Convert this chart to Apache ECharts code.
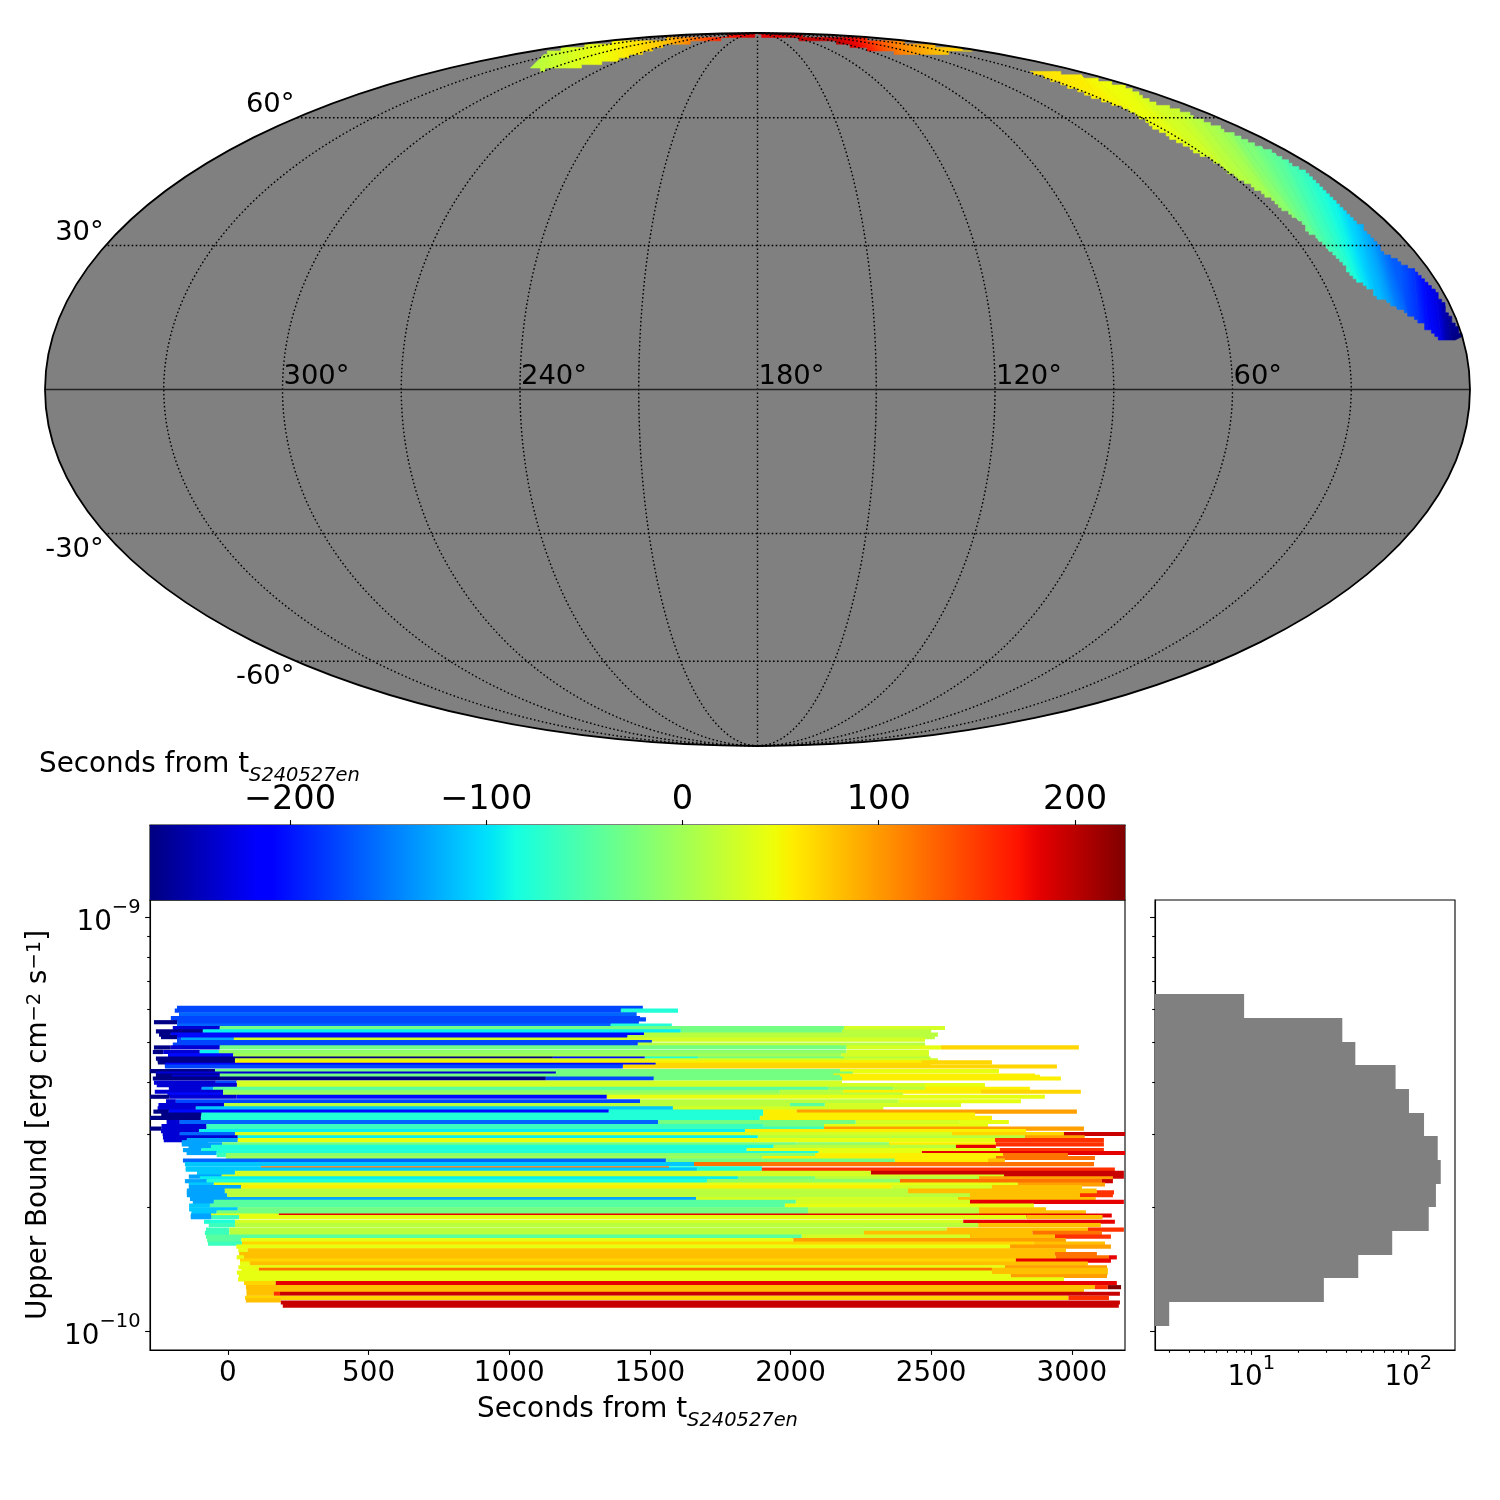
<!DOCTYPE html>
<html>
<head>
<meta charset="utf-8">
<title>S240527en upper bounds</title>
<script src="https://cdn.jsdelivr.net/npm/echarts@6/dist/echarts.min.js"></script>
<style>
  html, body { margin: 0; padding: 0; background: #fff; }
  #chart { width: 1500px; height: 1500px; }
</style>
</head>
<body>
<div id="chart"></div>
<script>
// sky strips: [seconds, upperX, upperY, lowerX, lowerY], each row is one line of equal time,
// x and y in the Mollweide plane (ellipse spans -1..1 on both)
const skyStripEast = [
  [65, 0.3839, 0.8943, 0.3839, 0.8943], [60, 0.4152, 0.8887, 0.4152, 0.8663],
  [55, 0.4526, 0.8794, 0.4784, 0.8167], [48, 0.4760, 0.8682, 0.5228, 0.7840],
  [42, 0.5228, 0.8448, 0.5790, 0.7092], [32, 0.5485, 0.8074, 0.6257, 0.6578],
  [27, 0.5743, 0.7934, 0.6491, 0.6344], [18, 0.6023, 0.7747, 0.6678, 0.6017],
  [10, 0.6257, 0.7513, 0.6912, 0.5736], [0, 0.6491, 0.7326, 0.7240, 0.5316],
  [-12, 0.6678, 0.7139, 0.7380, 0.5082], [-20, 0.6795, 0.7027, 0.7614, 0.4754],
  [-32, 0.7053, 0.6793, 0.7731, 0.4474], [-42, 0.7240, 0.6625, 0.7895, 0.4194],
  [-55, 0.7474, 0.6344, 0.8035, 0.3913], [-66, 0.7661, 0.6110, 0.8199, 0.3586],
  [-76, 0.7848, 0.5736, 0.8363, 0.3165], [-88, 0.8035, 0.5409, 0.8456, 0.3025],
  [-105, 0.8292, 0.4848, 0.8596, 0.2838], [-118, 0.8456, 0.4614, 0.8713, 0.2604],
  [-130, 0.8596, 0.4287, 0.8854, 0.2464], [-150, 0.8784, 0.3819, 0.8994, 0.2277],
  [-165, 0.8924, 0.3632, 0.9134, 0.2136], [-185, 0.9205, 0.3352, 0.9275, 0.1950],
  [-205, 0.9345, 0.3025, 0.9415, 0.1716], [-228, 0.9509, 0.2791, 0.9602, 0.1435],
  [-250, 0.9626, 0.2324, 0.9672, 0.1389], [-262, 0.9719, 0.2043, 0.9743, 0.1342],
  [-271, 0.9883, 0.1529, 0.9813, 0.1389]
]
const skyStripPoleWest = [
  [15, -0.2982, 0.9430, -0.3193, 0.9009], [20, -0.2912, 0.9495, -0.3006, 0.8962],
  [30, -0.2678, 0.9589, -0.2678, 0.9028], [45, -0.2211, 0.9710, -0.2211, 0.9121],
  [60, -0.1743, 0.9785, -0.1743, 0.9364], [80, -0.1275, 0.9832, -0.1275, 0.9645],
  [110, -0.0994, 0.9878, -0.0971, 0.9710], [145, -0.0713, 0.9906, -0.0713, 0.9785],
  [170, -0.0433, 0.9925, -0.0433, 0.9850], [190, -0.0058, 0.9944, -0.0058, 0.9897]
]
const skyStripPoleEast = [
  [181, 0.0012, 0.9944, 0.0012, 0.9934], [195, 0.0597, 0.9925, 0.0597, 0.9832],
  [200, 0.1064, 0.9888, 0.1111, 0.9738], [180, 0.1345, 0.9850, 0.1392, 0.9617],
  [155, 0.1532, 0.9822, 0.1672, 0.9495], [115, 0.1906, 0.9757, 0.2000, 0.9430],
  [95, 0.2234, 0.9691, 0.2281, 0.9420], [80, 0.2562, 0.9617, 0.2562, 0.9430],
  [65, 0.3029, 0.9495, 0.3029, 0.9476]
]

const meridians = [30, 60, 90, 120, 150, 180, 210, 240, 270, 300, 330]
const parallels = [60, 30, -30, -60]
const lonLabels = [300, 240, 180, 120, 60]
const latLabels = [60, 30, -30, -60]

// lower panel, one entry per row: log10 of the upper bound,
// the window edges in seconds, and the sky offset of each piece between edges
const rowLogBound = [
  -9.218, -9.225, -9.234, -9.243, -9.246, -9.253, -9.261, -9.267, -9.275, -9.283,
  -9.289, -9.295, -9.301, -9.307, -9.314, -9.325, -9.333, -9.341, -9.345, -9.350,
  -9.356, -9.360, -9.371, -9.377, -9.382, -9.385, -9.389, -9.399, -9.405, -9.414,
  -9.421, -9.428, -9.433, -9.444, -9.453, -9.461, -9.469, -9.476, -9.484, -9.494,
  -9.504, -9.510, -9.516, -9.523, -9.531, -9.538, -9.543, -9.548, -9.554, -9.562,
  -9.569, -9.574, -9.581, -9.587, -9.596, -9.606, -9.609, -9.617, -9.626, -9.630,
  -9.637, -9.645, -9.651, -9.660, -9.664, -9.671, -9.680, -9.687, -9.696, -9.705,
  -9.712, -9.720, -9.724, -9.735, -9.743, -9.754, -9.762, -9.771, -9.779, -9.788,
  -9.795, -9.804, -9.813, -9.821, -9.829, -9.836, -9.845, -9.851, -9.858, -9.866,
  -9.874, -9.883, -9.893, -9.900, -9.909, -9.919, -9.925, -9.930, -9.938
]
const rowEdges = [
  [-181, 1475], [-189, 1397, 1600], [-174, 1453], [-203, 1465], [-196, 1486],
  [-263, -180, 1461], [-181, 1361, 1578], [-196, -29, 2190, 2549],
  [-256, -89, 1610, 2183, 2500], [-245, -203, 1479, 2524],
  [-238, -181, 1420, 2513], [-181, -167, 21, 2478], [-181, 1507], [-196, 1457, 2478],
  [-263, -203, -29, 2199, 2460, 2535, 3025], [-267, -230, -100, -32, 2199, 2492],
  [-213, 19, 2181, 2492], [-256, 1155, 1482, 1671, 2190, 2498], [-250, 25, 2524],
  [-249, 25, 2466, 2716],
  [-224, 1521, 2500], [-224, 1404, 2947], [-277, -46, 2176, 2741], [-256, 1166, 2221],
  [-256, -29, 2152, 2869], [-200, -29, 2176, 2887], [-267, 1130, 1514, 2183, 2961],
  [-263, -43, 31, 2183], [-253, 32, 2478, 2691], [-210, -93, -52, 2133, 2365, 2478, 2851],
  [-260, -17, 1962, 2187, 2677, 3032], [-215, -17, 1962, 2400], [-277, -207, 31, 1347, 2904],
  [-220, -185, 1465, 2385, 2819], [-247, -14, 1998, 2122, 2606], [-250, -114, 1582, 2330],
  [-265, -210, 1354, 1903, 2022, 3018], [-237, -94, 1903, 2656], [-277, -96, 1891, 2716],
  [-218, -171, 1529, 2232, 2602, 2776],
  [-236, -76, 1905, 2119, 2702], [-277, -236, -76, 2119, 3043], [-238, -103, 1838, 2837],
  [-232, -171, 25, 2574, 2972, 3189], [-231, 35, 1884, 2833, 3046],
  [-228, -146, 35, 2727, 3114], [-164, -70], [-164, -21, 2022, 2350, 2730, 3114],
  [-140, -60, 1940, 2588, 2730], [-160, -94, 1844, 2744, 3114],
  [-147, -40, 2100, 2467, 3189], [-40, -7, 2087, 2756, 2986], [-7, 1900, 2730, 3082],
  [-160, 1557, 2371, 2702, 2762], [-153, 1657, 3079], [-150, 117, 1568, 1898],
  [-150, 1667, 1898, 3153], [-110, 25, 2286, 3185], [-139, -22, 2759, 3185],
  [-100, 1813, 2087, 2670, 3146],
  [-153, -75, 1703, 2389, 3107, 3146], [-139, -50, 2808, 3118], [-139, 47, 2359, 2716, 3036],
  [-146, -11, 2417, 3088], [-146, -11, 2417, 3089, 3150], [-146, -3, 2638, 3029, 3146],
  [-135, 1664, 2595, 3085], [-125, -50, 2019, 2638, 3185], [-138, -64, 1980, 2865],
  [-138, 35, 2062, 2670, 2908],
  [-130, -40, 2062, 2670, 3050], [-132, -60, 181, 3142], [-132, -58, 40, 2839, 3109],
  [-85, 25, 2614, 3153], [-68, 25, 2667, 3103], [-78, 5, 2555, 3057, 3185],
  [-82, 5, 2261, 2860, 3107], [-78, 2040, 2638, 2940, 3139], [-74, 48, 2010, 2979],
  [-71, 50, 2865, 3118],
  [30, 2780, 3139], [37, 70, 2979], [40, 2940, 3089], [31, 57, 2943, 3132, 3160],
  [43, 2801, 3139], [43, 78, 3057], [37, 2762, 3125], [48, 110, 2716, 3128],
  [32, 2716, 3128], [39, 2783, 3125],
  [36, 2972], [57, 170, 3160], [64, 3082, 3128, 3175], [66, 3043], [66, 163, 185, 3171],
  [61, 2988, 3132], [64, 188], [188, 3171], [195, 3167]
]
const rowOffsets = [
  [-175], [-175, -78], [-160], [-175], [-175],
  [-268, -175], [-160, -78], [-235, -27, 30],
  [-268, -92, -27, 15], [-268, -205, 15],
  [-268, -205, 15], [-175, -130, 30], [-175], [-175, 15],
  [-268, -235, -27, 30, 42, 68], [-268, -235, -92, -12, 30],
  [-205, 0, 30], [-268, -205, -78, -27, 15], [-268, 30],
  [-268, 55, 68],
  [-205, 68], [-175, 68], [-268, -27, 42], [-235, -27],
  [-268, -27, 55], [-235, -27, 55], [-268, -175, -27, 55],
  [-235, -175, 30], [-235, 30, 42], [-235, -130, -45, -12, 15, 55],
  [-235, -12, 15, 55, 68], [-205, 0, 15], [-268, -235, -205, 42],
  [-235, -175, 15, 42], [-235, 15, -45, 30], [-235, -112, 30],
  [-268, -205, -78, 55, 97], [-268, -78, 55], [-268, -78, 55],
  [-235, -160, -27, 30, 42],
  [-235, -62, -27, 42], [-268, -235, -62, 97], [-235, -92, 55],
  [-235, -160, 30, 68, 194], [-235, -92, 15, 97],
  [-235, -130, 42, 155], [-130], [-130, -27, -12, 55, 155],
  [-130, -78, 15, 181], [-130, -78, 42, 155],
  [-130, -78, 42, 181], [-62, -12, 55, 121], [0, 55, 121],
  [-160, -27, 55, 80], [-112, 121], [-112, 121, -78],
  [-112, -78, 155], [-112, 30, 194], [-130, 30, 194],
  [-92, -27, 15, 97],
  [-130, -78, -12, 121, 194], [-112, 42, 97], [-130, 55, 30, 80],
  [-130, 15, 80], [-130, 15, 80, 155], [-130, 15, 80, 155],
  [-130, 30, 80], [-130, -45, 30, 181], [-112, -45, 42],
  [-112, -27, 15, 80],
  [-112, -27, 15, 80], [-130, 42, 181], [-130, -62, 42, 80],
  [-78, 30, 181], [-62, 15, 80], [-62, 15, 80, 155],
  [-62, 15, 80, 121], [-45, 30, 80, 155], [-45, 42, 97],
  [-62, 68, 80],
  [42, 97], [42, 80], [80, 121], [42, 80, 121, 181],
  [68, 181], [42, 80], [42, 97], [42, 121, 80],
  [42, 80], [42, 97],
  [42], [68, 181], [80, 155, 225], [80], [80, 155, 194],
  [68, 155], [80], [194], [194]
]

// histogram at the right
const histLogEdges = [-9.186, -9.243, -9.3, -9.357, -9.415, -9.472, -9.529, -9.586, -9.643, -9.7, -9.758, -9.815, -9.872, -9.929, -9.986]
const histCounts = [9, 38, 46, 83, 101, 126, 154, 161, 150, 135, 79, 48, 29, 3]

// axis limits and ticks
const offsetRange = [-271.3, 225.5]
const offsetTicks = [-200, -100, 0, 100, 200]
const secondsRange = [-277, 3189]
const secondsTicks = [0, 500, 1000, 1500, 2000, 2500, 3000]
const boundRange = [9.02e-11, 1.102e-9]
const boundTicks = [1e-10, 1e-9]
const boundMinorTicks = [2e-10, 3e-10, 4e-10, 5e-10, 6e-10, 7e-10, 8e-10, 9e-10]
const countRange = [2.436, 198.4]
const countTicks = [10, 100]
const countMinorTicks = [3, 4, 5, 6, 7, 8, 9, 20, 30, 40, 50, 60, 70, 80, 90]

const FONT = 'DejaVu Sans'
const LABEL_SIZE = 27.8
const LINE_WIDTH = 1.1
const ROW_HEIGHT = 4.17
const SKY_CELL = 3.4

// matplotlib jet
const jetR = [[0, 0], [0.35, 0], [0.66, 1], [0.89, 1], [1, 0.5]]
const jetG = [[0, 0], [0.125, 0], [0.375, 1], [0.64, 1], [0.91, 0], [1, 0]]
const jetB = [[0, 0.5], [0.11, 1], [0.34, 1], [0.65, 0], [1, 0]]

const ramp = (table, p) => {
  for (let i = 1; i < table.length; i++) {
    if (p <= table[i][0]) {
      const [x0, y0] = table[i - 1]
      const [x1, y1] = table[i]
      return y0 + (y1 - y0) * (p - x0) / (x1 - x0)
    }
  }
  return table[table.length - 1][1]
}

const jetAt = (p) => {
  const c = [jetR, jetG, jetB].map(t => Math.round(255 * ramp(t, p)))
  return `rgb(${c[0]},${c[1]},${c[2]})`
}

const offsetColor = (sec) => {
  const p = (sec - offsetRange[0]) / (offsetRange[1] - offsetRange[0])
  return jetAt(Math.max(0, Math.min(1, p)))
}

// Mollweide, longitude runs backwards and 180 sits in the middle
const mollweide = (lon, lat) => {
  const phi = lat * Math.PI / 180
  let theta = phi
  if (Math.abs(lat) !== 90) {
    for (let i = 0; i < 30; i++) {
      const d = (2 * theta + Math.sin(2 * theta) - Math.PI * Math.sin(phi)) / (2 + 2 * Math.cos(2 * theta))
      theta -= d
    }
  }
  return [(180 - lon) / 180 * Math.cos(theta), Math.sin(theta)]
}

const skyLine = (fn) => {
  const pts = []
  for (let k = 0; k <= 120; k++) pts.push(fn(k / 120))
  return pts
}

// the sky map is a coarse pixel map, so strip edges walk in steps of one map cell
const stairs = (p, q) => {
  const snap = v => Math.round(v / SKY_CELL) * SKY_CELL
  const n = Math.max(1, Math.ceil(Math.hypot(q[0] - p[0], q[1] - p[1]) / SKY_CELL))
  const pts = []
  let prev = null
  for (let i = 0; i <= n; i++) {
    const cur = [snap(p[0] + (q[0] - p[0]) * i / n), snap(p[1] + (q[1] - p[1]) * i / n)]
    if (prev) pts.push([cur[0], prev[1]])
    pts.push(cur)
    prev = cur
  }
  return pts
}

const stripPieces = []
;[skyStripEast, skyStripPoleWest, skyStripPoleEast].forEach(strip => {
  for (let i = 0; i + 1 < strip.length; i++) stripPieces.push([...strip[i], ...strip[i + 1]])
})

const rowPieces = []
rowLogBound.forEach((logBound, i) => {
  rowOffsets[i].forEach((offset, j) => {
    rowPieces.push([rowEdges[i][j], rowEdges[i][j + 1], Math.pow(10, logBound), offset])
  })
})

const histBars = histCounts.map((count, i) => [
  count, Math.pow(10, histLogEdges[i]), Math.pow(10, histLogEdges[i + 1])
])

const renderSkyBase = (params, api) => {
  const c = api.coord([0, 0])
  const e = api.coord([1, 1])
  return {
    type: 'ellipse',
    shape: { cx: c[0], cy: c[1], rx: e[0] - c[0], ry: c[1] - e[1] },
    style: { fill: '#808080', stroke: null }
  }
}

const renderSkyEdge = (params, api) => {
  const c = api.coord([0, 0])
  const e = api.coord([1, 1])
  return {
    type: 'ellipse',
    shape: { cx: c[0], cy: c[1], rx: e[0] - c[0], ry: c[1] - e[1] },
    style: { fill: 'none', stroke: '#000', lineWidth: 1.8 }
  }
}

const renderStrip = (params, api) => {
  const v = stripPieces[params.dataIndex]
  const u0 = api.coord([v[1], v[2]])
  const l0 = api.coord([v[3], v[4]])
  const u1 = api.coord([v[6], v[7]])
  const l1 = api.coord([v[8], v[9]])
  const m0 = [(u0[0] + l0[0]) / 2, (u0[1] + l0[1]) / 2]
  const m1 = [(u1[0] + l1[0]) / 2, (u1[1] + l1[1]) / 2]
  // run the colour across the equal time lines, not along the strip
  let ax = u1[0] - l1[0]
  let ay = u1[1] - l1[1]
  const len = Math.hypot(ax, ay) || 1
  ax /= len
  ay /= len
  const nx = -ay
  const ny = ax
  const along = (m1[0] - m0[0]) * nx + (m1[1] - m0[1]) * ny
  const fill = new echarts.graphic.LinearGradient(
    m0[0], m0[1], m0[0] + nx * along, m0[1] + ny * along,
    [{ offset: 0, color: offsetColor(v[0]) }, { offset: 1, color: offsetColor(v[5]) }],
    true
  )
  return {
    type: 'polygon',
    shape: { points: [...stairs(u0, u1), ...stairs(l1, l0)] },
    style: { fill: fill, stroke: fill, lineWidth: 0.6 }
  }
}

const renderGraticule = (params, api) => {
  const dotted = { fill: null, stroke: '#000', lineWidth: 1.4, lineDash: [1.6, 2.4] }
  const children = []
  meridians.forEach(lon => {
    children.push({
      type: 'polyline',
      shape: { points: skyLine(t => api.coord(mollweide(lon, -90 + 180 * t))) },
      style: dotted
    })
  })
  parallels.forEach(lat => {
    children.push({
      type: 'polyline',
      shape: { points: skyLine(t => api.coord(mollweide(360 * t, lat))) },
      style: dotted
    })
  })
  children.push({
    type: 'polyline',
    shape: { points: skyLine(t => api.coord(mollweide(360 * t, 0))) },
    style: { fill: null, stroke: '#222', lineWidth: 1.5 }
  })
  return { type: 'group', children: children }
}

const renderSkyLabels = (params, api) => {
  const font = `27.4px "${FONT}"`
  const children = []
  lonLabels.forEach(lon => {
    const p = api.coord(mollweide(lon, 0))
    children.push({
      type: 'text',
      style: { text: lon + '°', x: p[0] + 1, y: p[1] - 12.5, font: font, fill: '#000', align: 'left', verticalAlign: 'middle' }
    })
  })
  latLabels.forEach(lat => {
    const p = api.coord(mollweide(360, lat))
    const dy = lat > 0 ? -13 : 16
    children.push({
      type: 'text',
      style: { text: lat + '°', x: p[0] - 2, y: p[1] + dy, font: font, fill: '#000', align: 'right', verticalAlign: 'middle' }
    })
  })
  return { type: 'group', children: children }
}

const renderColorbar = (params, api) => {
  const a = api.coord([offsetRange[0], 1])
  const b = api.coord([offsetRange[1], 0])
  const stops = []
  for (let i = 0; i <= 128; i++) stops.push({ offset: i / 128, color: jetAt(i / 128) })
  return {
    type: 'rect',
    shape: { x: a[0], y: a[1], width: b[0] - a[0], height: b[1] - a[1] },
    style: { fill: new echarts.graphic.LinearGradient(a[0], 0, b[0], 0, stops, true) }
  }
}

const renderRow = (params, api) => {
  const a = api.coord([api.value(0), api.value(2)])
  const b = api.coord([api.value(1), api.value(2)])
  return {
    type: 'rect',
    shape: { x: a[0], y: a[1] - ROW_HEIGHT / 2, width: b[0] - a[0], height: ROW_HEIGHT },
    style: { fill: offsetColor(api.value(3)) }
  }
}

const renderHistBar = (params, api) => {
  const a = api.coord([countRange[0], api.value(1)])
  const b = api.coord([api.value(0), api.value(2)])
  // whole pixels, otherwise neighbouring bars leave a faint seam
  const top = Math.round(a[1])
  const bottom = Math.round(b[1])
  return {
    type: 'rect',
    shape: { x: a[0], y: top, width: b[0] - a[0], height: bottom - top },
    style: { fill: '#808080' }
  }
}

const powerLabel = (value) => {
  const exp = Math.round(Math.log10(value))
  return `{b|10}{s|${String(exp).replace('-', '−')}}`
}

const powerRich = {
  b: { fontSize: LABEL_SIZE, fontFamily: FONT, color: '#000', lineHeight: 38, verticalAlign: 'bottom' },
  s: { fontSize: LABEL_SIZE * 0.7, fontFamily: FONT, color: '#000', lineHeight: 24, verticalAlign: 'top' }
}

const subRich = {
  a: { fontSize: LABEL_SIZE, fontFamily: FONT, fontWeight: 'normal', color: '#000', lineHeight: 34, verticalAlign: 'top' },
  i: { fontSize: LABEL_SIZE * 0.7, fontFamily: FONT, fontWeight: 'normal', fontStyle: 'italic', color: '#000', lineHeight: 24, verticalAlign: 'bottom' }
}

const axisLineStyle = { show: true, onZero: false, lineStyle: { color: '#000', width: LINE_WIDTH } }
const tickStyle = (length, values) => ({
  show: true, length: length, inside: false, customValues: values,
  lineStyle: { color: '#000', width: LINE_WIDTH }
})
const hiddenAxis = (gridIndex, min, max) => ({ type: 'value', gridIndex, min, max, show: false })

const boundAxes = (gridIndex, showLabels) => [
  {
    type: 'log', gridIndex, min: boundRange[0], max: boundRange[1], position: 'left',
    splitLine: { show: false }, axisLine: axisLineStyle,
    axisTick: tickStyle(4.9, boundTicks),
    axisLabel: showLabels
      ? { show: true, customValues: boundTicks, margin: 9.5, formatter: powerLabel, rich: powerRich }
      : { show: false },
    name: showLabels ? 'Upper Bound [erg cm{s|−2} s{s|−1}]' : '',
    nameLocation: 'middle', nameGap: 95, nameRotate: 90,
    nameTextStyle: {
      fontSize: LABEL_SIZE, fontFamily: FONT, color: '#000',
      rich: {
        s: { fontSize: LABEL_SIZE * 0.7, fontFamily: FONT, color: '#000', lineHeight: 24, verticalAlign: 'top' }
      }
    }
  },
  {
    type: 'log', gridIndex, min: boundRange[0], max: boundRange[1], position: 'left',
    splitLine: { show: false }, axisLine: { show: false, onZero: false },
    axisTick: tickStyle(2.8, boundMinorTicks),
    axisLabel: { show: false }
  }
]

const option = {
  animation: false,
  backgroundColor: '#fff',
  textStyle: { fontFamily: FONT },
  title: {
    text: '{a|Seconds from t}{i|S240527en}',
    left: 39,
    top: 751,
    padding: 0,
    textStyle: { fontWeight: 'normal', rich: subRich }
  },
  grid: [
    { left: 45, top: 33, width: 1425, height: 713, show: false },
    { left: 150, top: 825, width: 975, height: 75, show: true, borderColor: '#000', borderWidth: LINE_WIDTH, backgroundColor: 'transparent' },
    { left: 150, top: 900, width: 975, height: 450, show: true, borderColor: '#000', borderWidth: LINE_WIDTH, backgroundColor: 'transparent' },
    { left: 1155, top: 900, width: 300, height: 450, show: true, borderColor: '#000', borderWidth: LINE_WIDTH, backgroundColor: 'transparent' }
  ],
  xAxis: [
    hiddenAxis(0, -1, 1),
    {
      type: 'value', gridIndex: 1, position: 'top', min: offsetRange[0], max: offsetRange[1],
      splitLine: { show: false }, axisLine: axisLineStyle,
      axisTick: tickStyle(4.9, offsetTicks),
      axisLabel: {
        customValues: offsetTicks, fontSize: 33.6, color: '#000', margin: 8,
        formatter: v => String(v).replace('-', '−')
      }
    },
    {
      type: 'value', gridIndex: 2, position: 'bottom', min: secondsRange[0], max: secondsRange[1],
      splitLine: { show: false }, axisLine: axisLineStyle,
      axisTick: tickStyle(4.9, secondsTicks),
      axisLabel: { customValues: secondsTicks, fontSize: LABEL_SIZE, color: '#000', margin: 10, formatter: v => String(v) },
      name: '{a|Seconds from t}{i|S240527en}',
      nameLocation: 'middle', nameGap: 46,
      nameTextStyle: { rich: subRich }
    },
    {
      type: 'log', gridIndex: 3, position: 'bottom', min: countRange[0], max: countRange[1],
      splitLine: { show: false }, axisLine: axisLineStyle,
      axisTick: tickStyle(4.9, countTicks),
      axisLabel: { customValues: countTicks, margin: 4, formatter: powerLabel, rich: powerRich }
    },
    {
      type: 'log', gridIndex: 3, position: 'bottom', min: countRange[0], max: countRange[1],
      splitLine: { show: false }, axisLine: { show: false, onZero: false },
      axisTick: tickStyle(2.8, countMinorTicks),
      axisLabel: { show: false }
    }
  ],
  yAxis: [
    hiddenAxis(0, -1, 1),
    hiddenAxis(1, 0, 1),
    ...boundAxes(2, true),
    ...boundAxes(3, false)
  ],
  series: [
    {
      type: 'custom', xAxisIndex: 0, yAxisIndex: 0, z: 1, silent: true, clip: false,
      data: [[0, 0]], renderItem: renderSkyBase
    },
    {
      type: 'custom', xAxisIndex: 0, yAxisIndex: 0, z: 2, silent: true, clip: false,
      data: stripPieces, encode: { x: 1, y: 2 }, renderItem: renderStrip
    },
    {
      type: 'custom', xAxisIndex: 0, yAxisIndex: 0, z: 3, silent: true, clip: false,
      data: [[0, 0]], renderItem: renderGraticule
    },
    {
      type: 'custom', xAxisIndex: 0, yAxisIndex: 0, z: 4, silent: true, clip: false,
      data: [[0, 0]], renderItem: renderSkyEdge
    },
    {
      type: 'custom', xAxisIndex: 0, yAxisIndex: 0, z: 5, silent: true, clip: false,
      data: [[0, 0]], renderItem: renderSkyLabels
    },
    {
      type: 'custom', xAxisIndex: 1, yAxisIndex: 1, silent: true, clip: false,
      data: [[0, 0]], renderItem: renderColorbar
    },
    {
      type: 'custom', xAxisIndex: 2, yAxisIndex: 2, silent: true, clip: true,
      data: rowPieces, encode: { x: [0, 1], y: 2 }, renderItem: renderRow
    },
    {
      type: 'custom', xAxisIndex: 3, yAxisIndex: 4, silent: true, clip: true,
      data: histBars, encode: { x: 0, y: [1, 2] }, renderItem: renderHistBar
    }
  ]
}

const chart = echarts.init(document.getElementById('chart'), null, { renderer: 'canvas' })
chart.setOption(option)
</script>
</body>
</html>
